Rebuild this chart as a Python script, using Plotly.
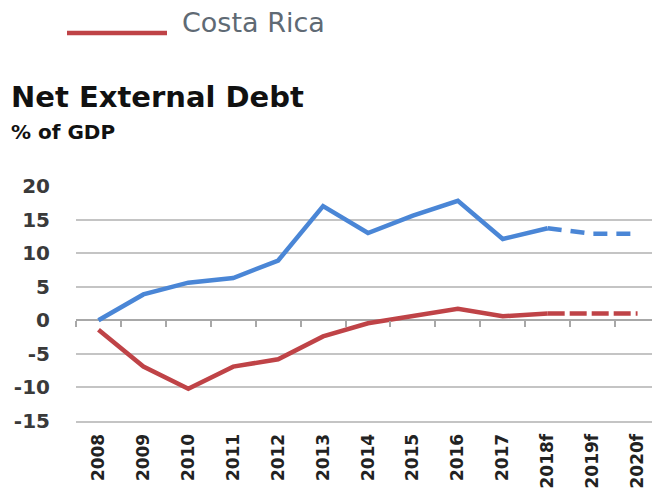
import plotly.graph_objects as go

categories = ["2008", "2009", "2010", "2011", "2012", "2013", "2014",
              "2015", "2016", "2017", "2018f", "2019f", "2020f"]
series_blue = [0.0, 3.85, 5.6, 6.3, 8.9, 17.0, 13.0, 15.6, 17.8, 12.1, 13.7, 12.9, 12.9]
series_costa_rica = [-1.4, -6.9, -10.2, -6.9, -5.8, -2.4, -0.45, 0.6, 1.7, 0.6, 1.0, 1.0, 1.0]
y_ticks = [-15, -10, -5, 0, 5, 10, 15, 20]
y_tick_labels = [str(v) for v in y_ticks]
forecast_start = 10  # index of 2018f

BLUE = "#4a86d6"
RED = "#bf4347"
FONT = "DejaVu Sans"

# page body has an 8px margin; work in window pixels and convert
OFF = 8
W, H = 660 - OFF, 492 - OFF
PL, PR, PT, PB = 76, 660, 186, 421  # plot area in window pixels
L, R, T, B = PL - OFF, 660 - PR, PT - OFF, 492 - PB
pw, ph = PR - PL, PB - PT

def px_x(px):
    return (px - PL) / pw

def px_y(py):
    return (PB - py) / ph

fig = go.Figure()

for vals, col, dash in [(series_blue, BLUE, "14px,9px"), (series_costa_rica, RED, "17px,5px")]:
    fig.add_trace(go.Scatter(
        x=categories[:forecast_start + 1], y=vals[:forecast_start + 1],
        mode="lines", line=dict(color=col, width=4.5), showlegend=False,
        hoverinfo="skip"))
    fig.add_trace(go.Scatter(
        x=categories[forecast_start:], y=vals[forecast_start:],
        mode="lines", line=dict(color=col, width=4.5, dash=dash), showlegend=False,
        hoverinfo="skip"))

# invisible trace carrying the category tick marks on the zero line
fig.add_trace(go.Scatter(x=categories, y=[0] * len(categories), xaxis="x2",
                         mode="lines", line=dict(width=0), showlegend=False,
                         hoverinfo="skip"))

ymin, ymax = -15, 20
zero_frac = (0 - ymin) / (ymax - ymin)

fig.update_layout(
    width=W, height=H,
    margin=dict(l=L, r=R, t=T, b=B, pad=0, autoexpand=False),
    paper_bgcolor="white", plot_bgcolor="white",
    font=dict(family=FONT, color="#333333"),
    xaxis=dict(
        type="category", categoryorder="array", categoryarray=categories,
        range=[-0.5, len(categories) - 0.5], automargin=False,
        tickangle=-90, tickfont=dict(size=17, color="#222222", family=FONT, weight="bold"),
        showgrid=False, zeroline=False,
        showline=True, linecolor="#c4c4c4", linewidth=2,
        ticks="outside", ticklen=4, tickcolor="rgba(0,0,0,0)",
    ),
    xaxis2=dict(
        type="category", categoryorder="array", categoryarray=categories,
        range=[-0.5, len(categories) - 0.5], automargin=False,
        overlaying="x", anchor="free", position=zero_frac,
        showticklabels=False, showgrid=False, zeroline=False,
        showline=False, ticks="outside", tickson="boundaries",
        ticklen=6, tickwidth=2, tickcolor="#a8a8a8",
    ),
    yaxis=dict(
        range=[ymin, ymax], tickvals=y_ticks, ticktext=y_tick_labels,
        automargin=False,
        tickfont=dict(size=20, color="#3a3a3a", family=FONT, weight="bold"),
        showgrid=True, gridcolor="#c4c4c4", gridwidth=2,
        zeroline=True, zerolinecolor="#a8a8a8", zerolinewidth=2,
        ticklabelstandoff=25,
    ),
)

fig.add_annotation(text="<b>Net External Debt</b>", xref="paper", yref="paper",
                   x=px_x(9), y=px_y(97), xanchor="left", yanchor="middle",
                   showarrow=False, font=dict(size=29, color="#111111", family=FONT))
fig.add_annotation(text="<b>% of GDP</b>", xref="paper", yref="paper",
                   x=px_x(9), y=px_y(132), xanchor="left", yanchor="middle",
                   showarrow=False, font=dict(size=20, color="#111111", family=FONT))
fig.add_annotation(text="Costa Rica", xref="paper", yref="paper",
                   x=px_x(180), y=px_y(22), xanchor="left", yanchor="middle",
                   showarrow=False, font=dict(size=27, color="#5f6a74", family=FONT))
fig.add_shape(type="line", xref="paper", yref="paper",
              x0=px_x(67), x1=px_x(167), y0=px_y(33), y1=px_y(33),
              line=dict(color=RED, width=4.5))

fig.write_html("out.html")
